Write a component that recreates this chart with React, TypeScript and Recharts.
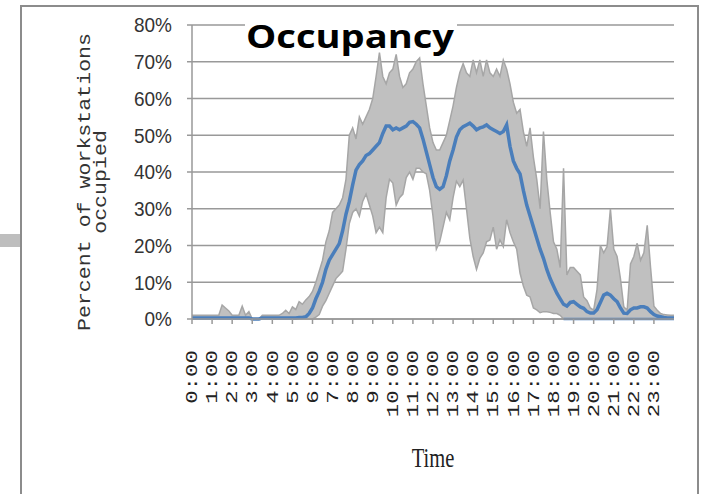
import React from "react";
import {
  Area,
  CartesianGrid,
  ComposedChart,
  Line,
  XAxis,
  YAxis,
} from "recharts";

// one reading every 10 minutes, 0:00 .. 24:00 (145 points)
const STEP_MIN = 10;

const HOUR_LABELS = [
  "0:00", "1:00", "2:00", "3:00", "4:00", "5:00", "6:00", "7:00",
  "8:00", "9:00", "10:00", "11:00", "12:00", "13:00", "14:00", "15:00",
  "16:00", "17:00", "18:00", "19:00", "20:00", "21:00", "22:00", "23:00",
];

const Y_TICKS = [0, 10, 20, 30, 40, 50, 60, 70, 80];

// highest occupancy seen (%)
const maxPct = [
  1, 1, 1, 1, 1, 1,
  1, 1, 1, 3.8, 3, 2.2,
  1, 1, 1, 3.5, 1, 2,
  0, 0, 0, 1, 1, 1,
  1, 1, 1, 1.5, 2.4, 1.5,
  3.3, 2.6, 4.7, 4, 5.2, 6.1,
  7.5, 10, 13, 16, 21, 24,
  29, 30, 31, 33, 38, 50,
  52, 49, 55, 53, 55, 57,
  60, 66, 72.5, 66, 64, 67,
  68, 72, 66, 63, 64, 67,
  68, 70, 71, 64, 58, 52,
  48, 46, 46, 48, 50, 54,
  58, 63, 67, 69.5, 67, 66,
  70.5, 67, 70.5, 66, 70.5, 67,
  66, 68, 66, 70.5, 68, 64,
  59, 56, 57, 51, 47, 52,
  44, 38, 30, 51, 38, 29,
  21, 19, 14, 41, 12, 14,
  14, 13, 12, 6, 5, 3,
  2.4, 8, 20, 18, 19.7, 30,
  19, 17, 11, 3.3, 2.4, 15,
  17, 20.6, 16, 18, 25.5, 14,
  3.5, 2.4, 1.5, 1.2, 1.1, 1,
  1,
];

// lowest occupancy seen (%)
const minPct = [
  0, 0, 0, 0, 0, 0,
  0, 0, 0, 0, 0, 0,
  0, 0, 0, 0, 0, 0,
  0, 0, 0, 0, 0, 0,
  0, 0, 0, 0, 0, 0,
  0, 0, 0, 0, 0, 0,
  0, 0.5, 1.2, 3.5, 5, 7,
  9, 11, 12, 13, 19, 26,
  29, 30, 28, 32, 34, 31,
  28, 23.5, 25, 23.5, 33, 38,
  37, 31, 33, 34, 38.5, 40,
  38, 41, 41, 40, 39.5, 35,
  28, 19, 21, 25, 29, 27,
  33, 37.5, 36, 37.8, 30, 22,
  17, 13.5, 16.5, 18, 21, 21.5,
  25, 19, 21.5, 19.7, 27, 23.5,
  21, 19, 12.5, 9, 6.5, 6,
  3, 2.5, 1.7, 2, 2, 1.8,
  1.5, 1.5, 1, 0, 0, 0,
  0, 0, 0, 0, 0, 0,
  0, 0, 0, 0, 0, 0,
  0, 0, 0, 0, 0, 0,
  0, 0, 0, 0, 0, 0,
  0, 0, 0, 0, 0, 0,
  0,
];

// average occupancy (%)
const meanPct = [
  0.3, 0.3, 0.3, 0.3, 0.3, 0.3,
  0.3, 0.3, 0.3, 0.3, 0.3, 0.3,
  0.3, 0.3, 0.3, 0.3, 0.3, 0.3,
  0, 0, 0, 0.3, 0.3, 0.3,
  0.3, 0.3, 0.3, 0.3, 0.3, 0.3,
  0.3, 0.3, 0.4, 0.4, 0.6, 1.5,
  3, 5.5, 7.5, 10, 13.5, 16,
  17.5, 19, 20.5, 24, 28.5, 32,
  36.5, 40.5, 42, 43, 44.5, 45,
  46, 47, 48, 50.5, 52.5, 52.5,
  51.5, 52, 51.5, 52, 52.5, 53.5,
  53.7, 53, 52, 49, 45.5, 42,
  38.5, 36, 35.3, 36, 39, 43,
  46, 49.5, 51.5, 52.3, 52.8, 53.3,
  52.5, 51.5, 52, 52.3, 52.8, 52,
  51.5, 51, 50.5, 51, 52.8, 47,
  43, 41, 39.5, 35, 31, 28,
  25, 22, 19, 16.5, 13.5, 11,
  9, 7, 5.5, 4, 3.5, 4.5,
  4.7, 4, 3.3, 2.9, 2, 1.6,
  1.6, 2.5, 4.5, 6.5, 7, 6.5,
  5.5, 4.7, 3, 1.6, 1.5, 2.5,
  3, 3, 3.3, 3.3, 3, 2,
  1.2, 0.8, 0.6, 0.4, 0.3, 0.3,
  0.3,
];

// stretch of the evening where a blue line sits on 0% (hours)
const zeroLineSpans = [[18.5, 24]];

const data = meanPct.map((mean, i) => {
  const t = (i * STEP_MIN) / 60;
  const onZero = zeroLineSpans.some(([a, b]) => t >= a && t <= b);
  return {
    t,
    range: [minPct[i], maxPct[i]],
    low: minPct[i],
    high: maxPct[i],
    mean,
    zero: onZero ? 0 : null,
  };
});

const tickHours = HOUR_LABELS.map((_, i) => i);

const MONO = "'Liberation Mono', 'Courier New', monospace";

const XTick = (props: any) => {
  const { x, y, payload } = props;
  return (
    <text
      transform={`translate(${x + 1},${y}) rotate(-90) scale(1.36,1)`}
      textAnchor="end"
      dominantBaseline="central"
      fontFamily={MONO}
      fontSize={16.5}
      fill="#222"
    >
      {HOUR_LABELS[payload.value]}
    </text>
  );
};

const YTick = (props: any) => {
  const { x, y, payload } = props;
  return (
    <text
      transform={`translate(${x},${y}) scale(1,1.1)`}
      textAnchor="end"
      dominantBaseline="central"
      fontFamily="'Liberation Sans', Arial, sans-serif"
      fontSize={19}
      fill="#333"
    >
      {`${payload.value}%`}
    </text>
  );
};

export default function App() {
  return (
    <div style={{ position: "absolute", left: 0, top: 0, width: 701, height: 494, background: "#fff" }}>
      <div style={{ position: "absolute", left: 0, top: 0 }}>
        <ComposedChart
          width={701}
          height={494}
          data={data}
          margin={{ top: 25, right: 27, bottom: 0, left: 0 }}
        >
          <CartesianGrid horizontal vertical={false} stroke="#999" strokeWidth={1.5} />
          <XAxis
            dataKey="t"
            type="number"
            domain={[0, 24]}
            ticks={tickHours}
            interval={0}
            height={175}
            tickSize={5}
            tickMargin={26}
            stroke="#999"
            strokeWidth={1.5}
            tick={<XTick />}
          />
          <YAxis
            domain={[0, 80]}
            ticks={Y_TICKS}
            interval={0}
            width={192}
            tickSize={5}
            tickMargin={15}
            stroke="#999"
            strokeWidth={1.5}
            tick={<YTick />}
          />
          <Area
            dataKey="range"
            type="linear"
            fill="#c0c0c0"
            fillOpacity={1}
            stroke="none"
            isAnimationActive={false}
            activeDot={false}
          />
          <Line dataKey="low" type="linear" stroke="#a6a6a6" strokeWidth={1.5} dot={false} activeDot={false} isAnimationActive={false} />
          <Line dataKey="high" type="linear" stroke="#a6a6a6" strokeWidth={1.5} dot={false} activeDot={false} isAnimationActive={false} />
          <Line dataKey="zero" type="linear" stroke="#4a7ebb" strokeWidth={2.5} dot={false} activeDot={false} connectNulls={false} isAnimationActive={false} />
          <Line dataKey="mean" type="linear" stroke="#4a7ebb" strokeWidth={3.5} dot={false} activeDot={false} isAnimationActive={false} />
        </ComposedChart>
      </div>
      <svg
        width={701}
        height={494}
        style={{ position: "absolute", left: 0, top: 0, pointerEvents: "none" }}
      >
        <rect x={0} y={234} width={20} height={13} fill="#bebebe" />
        <rect x={21} y={6} width={677} height={500} fill="none" stroke="#8c8c8c" strokeWidth={2} />
        <rect x={245} y={14} width={212} height={32} fill="#fff" />
        <text
          x={246}
          y={48}
          textLength={208}
          lengthAdjust="spacingAndGlyphs"
          fontFamily="'Open Sans', 'Liberation Sans', sans-serif"
          fontWeight={700}
          fontSize={33}
          fill="#000"
        >
          Occupancy
        </text>
        <g fontFamily={MONO} fontSize={18} fill="#333" textAnchor="middle">
          <text transform="translate(90,182) rotate(-90) scale(1.2,1)">Percent of workstations</text>
          <text transform="translate(106,182) rotate(-90) scale(1.2,1)">occupied</text>
        </g>
        <text
          transform="translate(433,467) scale(1,1.33)"
          textAnchor="middle"
          fontFamily="'Liberation Serif', 'Times New Roman', serif"
          fontSize={20.5}
          fill="#222"
        >
          Time
        </text>
      </svg>
    </div>
  );
}
